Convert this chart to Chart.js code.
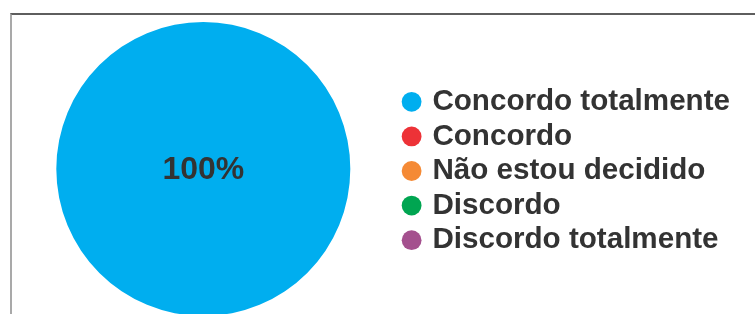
<html>
<head>
  <title></title>
  <style>
    body { margin: 0; overflow: hidden; background: #fff; }
    #frame { position: absolute; left: 10px; top: 13px; width: 760px; height: 320px;
             border-top: 2px solid #5e5e5e; border-left: 2px solid #a9a9a9; }
    #wrap { position: absolute; left: 0; top: 0; }
  </style>
</head>
<body>
  <div id="frame"></div>
  <div id="wrap">
    <canvas id="myChart" width="755" height="330"></canvas>
  </div>

<script src="https://cdn.jsdelivr.net/npm/chart.js"></script>

<script>
  const labels = ['Concordo totalmente', 'Concordo', 'Não estou decidido', 'Discordo', 'Discordo totalmente']
  const values = [100, 0, 0, 0, 0] // percent
  const colors = ['#00AEEF', '#ED3237', '#F58A35', '#00A551', '#A4508E']

  // percent label in the middle of each slice
  const pctLabels = {
    id: 'pctLabels',
    afterDatasetsDraw(chart) {
      const c = chart.ctx
      const meta = chart.getDatasetMeta(0)
      c.save()
      c.font = 'bold 32px "Liberation Sans", Arial, sans-serif'
      c.fillStyle = '#333333'
      c.textAlign = 'center'
      c.textBaseline = 'middle'
      meta.data.forEach((arc, i) => {
        const v = values[i]
        if (!v) return
        let pos = arc.tooltipPosition()
        if (v >= 100) pos = {x: arc.x, y: arc.y}
        c.fillText(v + '%', pos.x, pos.y + 1)
      })
      c.restore()
    }
  }

  const ctx = document.getElementById('myChart')
  new Chart(ctx, {
    type: 'pie',
    data: {
      labels: labels,
      datasets: [{
        data: values,
        backgroundColor: colors,
        borderWidth: 0
      }]
    },
    options: {
      responsive: false,
      animation: false,
      devicePixelRatio: 1,
      layout: { padding: { left: 6, top: 22, bottom: 14, right: 15 } },
      plugins: {
        tooltip: { enabled: false },
        legend: {
          position: 'right',
          align: 'center',
          // tiny empty title just nudges the items down a little
          title: { display: true, text: ' ', padding: 0, font: { size: 4, lineHeight: 1 } },
          labels: {
            usePointStyle: true,
            pointStyle: 'circle',
            boxWidth: 12,
            boxHeight: 14,
            padding: 5,
            color: '#333333',
            font: { family: '"Liberation Sans", Arial, sans-serif', size: 29.6, weight: 'bold', lineHeight: 1 }
          }
        }
      }
    },
    plugins: [pctLabels]
  })
</script>
</body>
</html>
